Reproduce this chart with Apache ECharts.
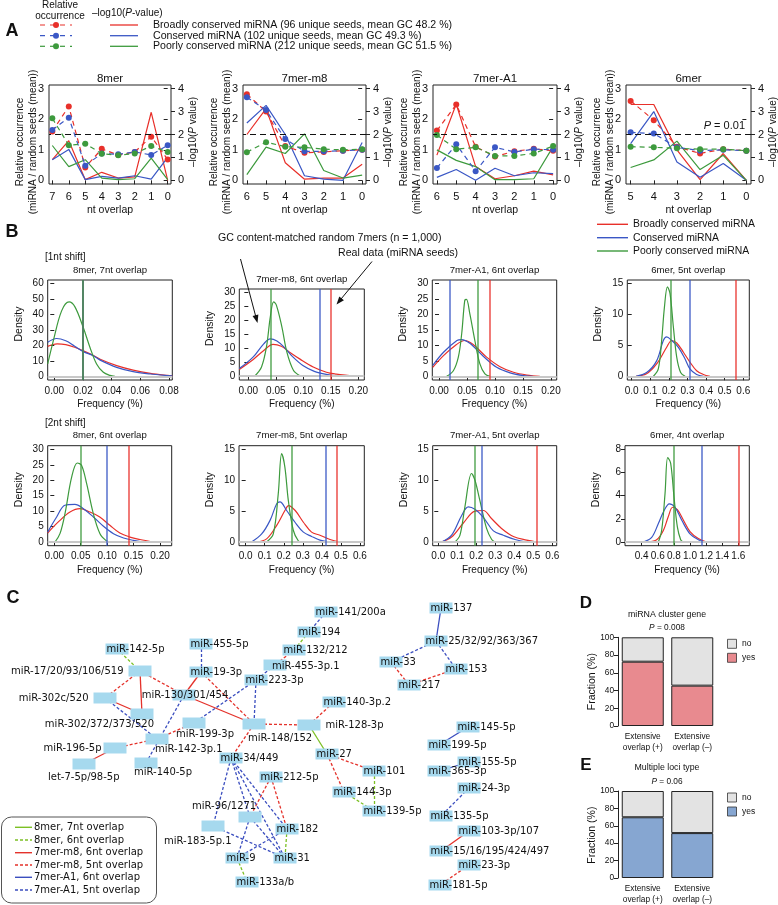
<!DOCTYPE html>
<html><head><meta charset="utf-8">
<script src="https://cdn.jsdelivr.net/npm/echarts@6.0.0/dist/echarts.min.js"></script>
<style>html,body{margin:0;padding:0;background:#fff;}#chart{width:778px;height:905px;}</style>
</head><body><div id="chart"></div>
<script>
// ================= DATA =================
// ---- Panel A: relative occurrence (dashed, left axis) and -log10(P) (solid, right axis)
const aPanelNames = ['8mer', '7mer-m8', '7mer-A1', '6mer'];
const aOverlap8mer = [7, 6, 5, 4, 3, 2, 1, 0];
const aOverlap7mer = [6, 5, 4, 3, 2, 1, 0];
const aOverlap6mer = [5, 4, 3, 2, 1, 0];
const aYTicksLeft = [0, 1, 2, 3];
const aYTicksRight = [0, 1, 2, 3, 4];

const rel8merBroad = [1.60, 2.42, 0.42, 1.03, 0.83, 0.93, 1.43, 0.68];
const rel8merCons  = [1.65, 2.05, 0.48, 0.88, 0.85, 0.93, 0.83, 1.15];
const rel8merPoor  = [2.03, 1.15, 1.20, 0.87, 0.82, 0.88, 1.12, 0.93];
const p8merBroad = [0.90, 1.73, 0.03, 0.35, 0.10, 0.15, 2.97, 0.00];
const p8merCons  = [0.90, 1.35, 0.03, 0.17, 0.10, 0.20, 0.05, 1.00];
const p8merPoor  = [1.52, 0.60, 0.90, 0.10, 0.03, 0.07, 0.97, 0.03];

const relM8Broad = [2.82, 2.25, 1.12, 0.90, 0.93, 0.97, 1.00];
const relM8Cons  = [2.72, 2.30, 1.35, 0.95, 0.95, 0.97, 1.00];
const relM8Poor  = [0.92, 1.25, 1.10, 1.08, 1.02, 1.00, 1.02];
const pM8Broad = [2.00, 3.13, 0.77, 0.05, 0.10, 0.10, 0.70];
const pM8Cons  = [2.50, 3.27, 2.00, 0.20, 0.05, 0.00, 1.65];
const pM8Poor  = [0.25, 1.45, 1.17, 2.03, 0.43, 0.10, 0.23];

const relA1Broad = [1.63, 2.48, 1.10, 0.78, 0.95, 1.03, 0.97];
const relA1Cons  = [0.40, 1.18, 0.30, 1.08, 0.93, 1.02, 1.00];
const relA1Poor  = [1.48, 1.02, 1.08, 0.80, 0.80, 0.88, 1.12];
const pA1Broad = [1.10, 3.33, 0.60, 0.07, 0.20, 0.40, 0.24];
const pA1Cons  = [0.13, 0.47, 0.00, 0.53, 0.20, 0.33, 0.29];
const pA1Poor  = [1.33, 0.87, 0.60, 0.03, 0.03, 0.07, 1.47];

const rel6merBroad = [2.60, 1.97, 1.10, 0.88, 1.02, 0.97];
const rel6merCons  = [1.57, 1.53, 1.08, 0.97, 1.00, 0.97];
const rel6merPoor  = [1.10, 1.08, 1.05, 1.02, 1.02, 0.97];
const p6merBroad = [3.31, 3.31, 1.33, 0.03, 1.17, 0.00];
const p6merCons  = [1.60, 3.00, 0.80, 0.13, 0.73, 0.00];
const p6merPoor  = [0.56, 0.89, 1.71, 0.47, 1.09, 0.00];
const pThreshold = 2; // -log10(0.01)

const aLegendTexts = ['Broadly conserved miRNA (96 unique seeds, mean GC 48.2 %)',
  'Conserved miRNA (102 unique seeds, mean GC 49.3 %)',
  'Poorly conserved miRNA (212 unique seeds, mean GC 51.5 %)'];
const groupNames = ['Broadly conserved miRNA', 'Conserved miRNA', 'Poorly conserved miRNA'];

// ---- Panel B: density of frequency (%) for random 7mers, plus real-data frequencies
const bTitles1 = ['8mer, 7nt overlap', '7mer-m8, 6nt overlap', '7mer-A1, 6nt overlap', '6mer, 5nt overlap'];
const bTitles2 = ['8mer, 6nt overlap', '7mer-m8, 5nt overlap', '7mer-A1, 5nt overlap', '6mer, 4nt overlap'];
const bXTicks1 = [[0, 0.02, 0.04, 0.06, 0.08], [0, 0.05, 0.1, 0.15, 0.2], [0, 0.05, 0.1, 0.15, 0.2], [0, 0.1, 0.2, 0.3, 0.4, 0.5, 0.6]];
const bXTicks2 = [[0, 0.05, 0.1, 0.15, 0.2], [0, 0.1, 0.2, 0.3, 0.4, 0.5, 0.6], [0, 0.1, 0.2, 0.3, 0.4, 0.5, 0.6], [0.4, 0.6, 0.8, 1.0, 1.2, 1.4, 1.6]];
const bYTicks1 = [[0, 10, 20, 30, 40, 50, 60], [0, 5, 10, 15, 20, 25, 30], [0, 5, 10, 15, 20, 25, 30], [0, 5, 10, 15]];
const bYTicks2 = [[0, 5, 10, 15, 20, 25, 30], [0, 5, 10, 15], [0, 5, 10, 15], [0, 2, 4, 6, 8]];

const real1ntBroad = [0.0203, 0.1527, 0.086, 0.555];
const real1ntCons  = [0.0175, 0.1345, 0.0167, 0.308];
const real1ntPoor  = [0.0231, 0.0406, 0.069, 0.21];
const real2ntBroad = [0.1388, 0.481, 0.523, 1.60];
const real2ntCons  = [0.1003, 0.4215, 0.228, 1.153];
const real2ntPoor  = [0.0536, 0.2414, 0.188, 0.80];

const d1_8mer_broad = [[-0.0046,19.4],[0.002,21],[0.008,20.5],[0.0142,18.8],[0.0203,16.5],[0.027,13.6],[0.032,11],[0.0435,6.9],[0.055,4],[0.067,1.9],[0.079,0.6],[0.0823,0.4]];
const d1_8mer_cons  = [[-0.0046,22],[0.0016,24.5],[0.008,23],[0.0142,19.5],[0.0203,16],[0.027,13.4],[0.032,10.5],[0.0435,5.8],[0.055,3],[0.067,1.5],[0.079,0.4],[0.0823,0.3]];
const d1_8mer_poor  = [[-0.0046,8],[-0.0007,23],[0.0051,42.4],[0.0103,48.2],[0.0144,45],[0.0202,31.6],[0.0249,18.7],[0.0295,8],[0.0342,2.6],[0.0388,0.6],[0.0423,0]];
const d1_m8_broad = [[-0.0164,2.3],[0.009,5.9],[0.027,8.9],[0.045,11.3],[0.06,10.6],[0.075,8.5],[0.094,6],[0.118,3.2],[0.142,1.3],[0.16,0.6],[0.18,0.15],[0.19,0]];
const d1_m8_cons  = [[-0.0164,2.6],[0.009,6.8],[0.028,11.5],[0.04,13.3],[0.052,12.5],[0.065,10.3],[0.08,7],[0.1,3.6],[0.12,1.6],[0.135,0.8],[0.15,0.3],[0.165,0]];
const d1_m8_poor  = [[0.012,0],[0.024,3.2],[0.033,10.4],[0.04,21.2],[0.046,26.6],[0.051,25.4],[0.061,17.6],[0.07,8.6],[0.082,2],[0.094,0]];
const d1_a1_broad = [[-0.0113,2.9],[0.008,6.7],[0.029,10],[0.046,11.6],[0.061,10.3],[0.085,6.2],[0.109,3.1],[0.133,1.3],[0.157,0.4],[0.18,0]];
const d1_a1_cons  = [[-0.0113,3.5],[0.008,7.8],[0.032,11.6],[0.04,11.9],[0.055,10.7],[0.079,6.5],[0.103,2.9],[0.127,1.1],[0.151,0.2],[0.168,0]];
const d1_a1_poor  = [[0.0137,0],[0.0256,1.8],[0.0345,6.2],[0.0405,13.8],[0.046,24.6],[0.049,24.9],[0.055,20.3],[0.064,11.6],[0.073,4],[0.082,0.8],[0.091,0]];
const d1_6mer_broad = [[0.023,0],[0.08,0.4],[0.134,2],[0.188,4.7],[0.215,5.8],[0.242,5.4],[0.278,3.9],[0.313,2.3],[0.349,0.9],[0.385,0.3],[0.421,0]];
const d1_6mer_cons  = [[0.023,0],[0.08,0.6],[0.134,2.5],[0.17,5.8],[0.188,6.4],[0.215,5.8],[0.251,4.7],[0.287,2.8],[0.313,1.2],[0.349,0.3],[0.385,0]];
const d1_6mer_poor  = [[0.116,0],[0.143,1.2],[0.161,5.8],[0.176,11.2],[0.192,14.5],[0.206,13.4],[0.224,8],[0.242,3.1],[0.263,0.6],[0.287,0]];

const d2_8mer_broad = [[-0.0126,2.9],[0.0076,6.5],[0.0297,9.7],[0.0486,10.8],[0.0675,9.7],[0.086,8.1],[0.105,5.4],[0.124,2.9],[0.143,1.6],[0.162,0.8],[0.187,0]];
const d2_8mer_cons  = [[-0.0126,3.2],[0.0044,8.1],[0.02,11.9],[0.039,12.2],[0.055,10.8],[0.074,8.1],[0.093,5.1],[0.112,2.7],[0.131,1.3],[0.15,0.5],[0.168,0]];
const d2_8mer_poor  = [[0.0013,0],[0.0107,2.7],[0.0202,9.2],[0.0328,21],[0.0435,25.6],[0.0517,24.8],[0.0612,18.9],[0.0738,9.2],[0.0864,2.7],[0.099,0.3],[0.105,0]];
const d2_m8_broad = [[0.058,0],[0.11,0.5],[0.163,2.7],[0.206,5.1],[0.225,5.9],[0.26,5.1],[0.303,3.2],[0.346,1.6],[0.39,1.1],[0.443,0.4],[0.495,0]];
const d2_m8_cons  = [[0.031,0],[0.084,1.3],[0.128,3.5],[0.163,6.2],[0.18,6.5],[0.215,5.1],[0.259,3.2],[0.303,1.6],[0.346,0.9],[0.39,0.3],[0.443,0]];
const d2_m8_poor  = [[0.11,0],[0.145,1.3],[0.171,7.8],[0.189,14.3],[0.206,12.1],[0.224,6.7],[0.25,1.9],[0.276,0.2],[0.294,0]];
const d2_a1_broad = [[0.0175,0],[0.07,0.8],[0.13,3],[0.193,5],[0.237,5.1],[0.28,3.8],[0.333,2.2],[0.395,0.9],[0.465,0.3],[0.518,0]];
const d2_a1_cons  = [[0.0175,0],[0.07,1.1],[0.123,4.3],[0.158,5.7],[0.193,5.3],[0.237,4],[0.29,1.8],[0.342,1.1],[0.404,0.4],[0.465,0]];
const d2_a1_poor  = [[0.088,0],[0.114,1.1],[0.14,5.7],[0.175,11.1],[0.193,10],[0.219,6.7],[0.254,2.2],[0.281,0.4],[0.298,0]];
const d2_6mer_broad = [[0.483,0],[0.586,0.2],[0.669,1.0],[0.731,2.2],[0.785,3.0],[0.843,2.8],[0.917,1.9],[1.0,0.9],[1.103,0.3],[1.207,0]];
const d2_6mer_cons  = [[0.421,0],[0.524,0.4],[0.607,1.6],[0.677,2.7],[0.743,3.3],[0.814,3.0],[0.896,1.9],[1.0,0.7],[1.103,0.2],[1.186,0]];
const d2_6mer_poor  = [[0.607,0],[0.648,1.0],[0.69,4.2],[0.723,7.3],[0.76,6.8],[0.801,3.9],[0.843,1.3],[0.884,0.2],[0.917,0]];

// ---- Panel C: network
const netNodes = ['miR-141/200a','miR-194','miR-132/212','miR-455-3p.1','miR-223-3p','miR-455-5p','miR-19-3p',
  'miR-142-5p','miR-17/20/93/106/519','miR-302c/520','miR-302/372/373/520','miR-130/301/454','miR-199-3p',
  'miR-148/152','miR-128-3p','miR-140-3p.2','miR-142-3p.1','miR-196-5p','let-7-5p/98-5p','miR-140-5p',
  'miR-34/449','miR-27','miR-212-5p','miR-144-3p','miR-101','miR-139-5p','miR-96/1271','miR-183-5p.1',
  'miR-182','miR-9','miR-31','miR-133a/b','miR-137','miR-25/32/92/363/367','miR-33','miR-153','miR-217',
  'miR-145-5p','miR-199-5p','miR-155-5p','miR-365-3p','miR-24-3p','miR-135-5p','miR-103-3p/107',
  'miR-15/16/195/424/497','miR-23-3p','miR-181-5p'];
const edgeTypes = ['8mer, 7nt overlap','8mer, 6nt overlap','7mer-m8, 6nt overlap','7mer-m8, 5nt overlap','7mer-A1, 6nt overlap','7mer-A1, 5nt overlap'];
const edges8mer7nt = [['miR-128-3p','miR-27']];
const edges8mer6nt = [['miR-194','miR-132/212'],['miR-142-5p','miR-17/20/93/106/519'],['miR-144-3p','miR-139-5p'],['miR-101','miR-139-5p'],['miR-182','miR-31'],['miR-9','miR-133a/b']];
const edgesM8_6nt = [['miR-17/20/93/106/519','miR-302/372/373/520'],['miR-302c/520','miR-302/372/373/520'],['miR-19-3p','miR-130/301/454'],['miR-130/301/454','miR-148/152'],['miR-196-5p','let-7-5p/98-5p'],['miR-103-3p/107','miR-15/16/195/424/497']];
const edgesM8_5nt = [['miR-132/212','miR-455-3p.1'],['miR-17/20/93/106/519','miR-302c/520'],['miR-17/20/93/106/519','miR-130/301/454'],['miR-19-3p','miR-148/152'],['miR-199-3p','miR-142-3p.1'],['miR-148/152','miR-128-3p'],['miR-148/152','miR-34/449'],['miR-128-3p','miR-140-3p.2'],['miR-196-5p','miR-142-3p.1'],['miR-27','miR-101'],['miR-27','miR-144-3p'],['miR-212-5p','miR-96/1271'],['miR-212-5p','miR-182'],['miR-33','miR-217'],['miR-217','miR-153'],['miR-23-3p','miR-181-5p']];
const edgesA1_6nt = [['miR-137','miR-25/32/92/363/367'],['miR-145-5p','miR-199-5p'],['miR-155-5p','miR-365-3p']];
const edgesA1_5nt = [['miR-141/200a','miR-194'],['miR-455-3p.1','miR-223-3p'],['miR-455-5p','miR-19-3p'],['miR-302c/520','miR-142-3p.1'],['miR-130/301/454','miR-140-5p'],['miR-223-3p','miR-199-3p'],['miR-223-3p','miR-148/152'],['miR-34/449','miR-183-5p.1'],['miR-34/449','miR-31'],['miR-34/449','miR-96/1271'],['miR-34/449','miR-182'],['miR-96/1271','miR-9'],['miR-96/1271','miR-31'],['miR-183-5p.1','miR-31'],['miR-182','miR-9'],['miR-25/32/92/363/367','miR-33'],['miR-25/32/92/363/367','miR-153'],['miR-24-3p','miR-135-5p']];

// ---- Panels D, E
const deCategories = ['Extensive\noverlap (+)', 'Extensive\noverlap (–)'];
const clusterYes = [72.5, 45.5];
const clusterNo  = [27.5, 54.5];
const lociYes = [69.8, 51.6];
const lociNo  = [30.2, 48.4];

// ================= LAYOUT / STYLE =================
const F = '"Liberation Sans", Arial, Helvetica, sans-serif';
const NF = '"DejaVu Sans", sans-serif';
const RED = '#e8302a', BLUE = '#3a57c5', GREEN = '#3d9a3d';
const COLS = [RED, BLUE, GREEN];
const grids = [], xAxes = [], yAxes = [], series = [], graphics = [];

function txt(x, y, text, size, opts) {
  opts = opts || {};
  const el = {type: 'text', x: x, y: y, silent: true, z: 50,
    style: {text: text, fontSize: size, fontFamily: opts.family || F, fontWeight: opts.weight || 'normal',
      fill: opts.fill || '#111', align: opts.align || 'center', verticalAlign: opts.va || 'middle',
      lineHeight: opts.lh || undefined, rich: opts.rich || undefined}};
  if (opts.rot) el.rotation = opts.rot;
  return el;
}
function hline(x1, y1, x2, y2, color, w, dash) {
  return {type: 'line', silent: true, z: 50, shape: {x1, y1, x2, y2}, style: {stroke: color, lineWidth: w, lineDash: dash || null}};
}
function addGrid(l, t, w, h, show) {
  grids.push({left: l, top: t, width: w, height: h, show: show !== false, borderColor: '#222', borderWidth: 1, backgroundColor: 'transparent', containLabel: false});
  return grids.length - 1;
}
function valAxis(g, opts) {
  return Object.assign({gridIndex: g, type: 'value', scale: false,
    axisLine: {show: false}, splitLine: {show: false},
    axisTick: {show: true, length: 4, lineStyle: {color: '#222', width: 1}, customValues: opts.ticks},
    axisLabel: {show: true, customValues: opts.ticks, fontSize: opts.fs || 11, fontFamily: F, color: '#111', margin: opts.margin || 6,
      formatter: opts.fmt || (v => String(v))}}, opts.extra || {});
}

// ---------- Panel A ----------
const aBoxes = [[49, 171], [243, 366], [433, 557], [626, 751]];
const aTop = 85, aBot = 184;
const aXs = [aOverlap8mer, aOverlap7mer, aOverlap7mer, aOverlap6mer];
const aRel = [[rel8merBroad, rel8merCons, rel8merPoor], [relM8Broad, relM8Cons, relM8Poor], [relA1Broad, relA1Cons, relA1Poor], [rel6merBroad, rel6merCons, rel6merPoor]];
const aP = [[p8merBroad, p8merCons, p8merPoor], [pM8Broad, pM8Cons, pM8Poor], [pA1Broad, pA1Cons, pA1Poor], [p6merBroad, p6merCons, p6merPoor]];
aPanelNames.forEach((nm, i) => {
  const [l, r] = aBoxes[i];
  const g = addGrid(l, aTop, r - l, aBot - aTop);
  const xs = aXs[i];
  const xi = xAxes.length;
  xAxes.push(valAxis(g, {ticks: xs, margin: 7, extra: {inverse: true, min: -0.2, max: xs[0] + 0.2, position: 'bottom'}}));
  const yl = yAxes.length;
  yAxes.push(valAxis(g, {ticks: aYTicksLeft, margin: 5, extra: {position: 'left', min: -0.12, max: 3.12}}));
  yAxes.push(valAxis(g, {ticks: aYTicksRight, margin: 7, extra: {position: 'right', min: -0.16, max: 4.16}}));
  COLS.forEach((c, k) => {
    series.push({type: 'line', name: groupNames[k], xAxisIndex: xi, yAxisIndex: yl + 1, data: xs.map((x, j) => [x, aP[i][k][j]]),
      symbol: 'none', lineStyle: {color: c, width: 1.2}, silent: true, z: 2});
  });
  COLS.forEach((c, k) => {
    const s = {type: 'line', name: groupNames[k], xAxisIndex: xi, yAxisIndex: yl, data: xs.map((x, j) => [x, aRel[i][k][j]]),
      symbol: 'circle', symbolSize: 6, itemStyle: {color: c}, lineStyle: {color: c, width: 1.2, type: [5, 4]}, silent: true, z: 3};
    series.push(s);
  });
  series.push({type: 'line', xAxisIndex: xi, yAxisIndex: yl + 1, data: [], silent: true, z: 4,
    markLine: {silent: true, symbol: 'none', label: {show: false}, animation: false,
      lineStyle: {color: '#111', type: [6, 4], width: 1.2}, data: [{yAxis: pThreshold}]}});
  const cx = (l + r) / 2;
  graphics.push(txt(cx, 79, nm, 11.5));
  graphics.push(txt(cx, 210, 'nt overlap', 10.5));
  graphics.push(txt(l - 22.5, 142, 'Relative occurrence\n(miRNA / random seeds (mean))', 10, {rot: Math.PI / 2, lh: 12.5}));
  graphics.push(txt(r + 22, 132, '–log10({i|P} value)', 10, {rot: Math.PI / 2, rich: {i: {fontStyle: 'italic', fontSize: 10, fontFamily: F}}}));
});
graphics.push(txt(745, 126, '{i|P} = 0.01', 11, {align: 'right', rich: {i: {fontStyle: 'italic', fontSize: 11, fontFamily: F}}}));
// Panel A header / legend
graphics.push(txt(12, 31, 'A', 18, {weight: 'bold'}));
graphics.push(txt(60, 5.5, 'Relative', 10));
graphics.push(txt(60, 16.5, 'occurrence', 10));
graphics.push(txt(92, 13.5, '–log10({i|P}-value)', 10, {align: 'left', rich: {i: {fontStyle: 'italic', fontSize: 10, fontFamily: F}}}));
[25, 35.7, 46.3].forEach((y, k) => {
  graphics.push(hline(40, y, 72, y, COLS[k], 1.2, [5, 5]));
  graphics.push({type: 'circle', silent: true, z: 51, shape: {cx: 56, cy: y, r: 3}, style: {fill: COLS[k]}});
  graphics.push(hline(110, y, 138, y, COLS[k], 1.3));
  graphics.push(txt(153, y, aLegendTexts[k], 10.6, {align: 'left'}));
});

// ---------- Panel B ----------
const bDens = [
  [[d1_8mer_broad, d1_8mer_cons, d1_8mer_poor], [d1_m8_broad, d1_m8_cons, d1_m8_poor], [d1_a1_broad, d1_a1_cons, d1_a1_poor], [d1_6mer_broad, d1_6mer_cons, d1_6mer_poor]],
  [[d2_8mer_broad, d2_8mer_cons, d2_8mer_poor], [d2_m8_broad, d2_m8_cons, d2_m8_poor], [d2_a1_broad, d2_a1_cons, d2_a1_poor], [d2_6mer_broad, d2_6mer_cons, d2_6mer_poor]]
];
const bReal = [[real1ntBroad, real1ntCons, real1ntPoor], [real2ntBroad, real2ntCons, real2ntPoor]];
const bXT = [bXTicks1, bXTicks2], bYT = [bYTicks1, bYTicks2], bTit = [bTitles1, bTitles2];
const bBox = [
  [[47.7, 172.3, 280, 380, -0.0046, 0.0823, 2], [239.3, 364.3, 289, 380, -0.0164, 0.2109, 2], [432.3, 556.7, 280, 380, -0.012, 0.2102, 2], [627.3, 749.3, 280, 380, -0.0237, 0.6323, 1]],
  [[47.7, 171.7, 445.7, 545.7, -0.0125, 0.2221, 2], [239, 364.3, 445.7, 545.7, -0.035, 0.6227, 1], [432.7, 556.7, 445.7, 545.7, -0.0295, 0.6232, 1], [625, 749.3, 445.7, 545.7, 0.1925, 1.7366, 1]]
];
const bTitleY = [[270, 279, 270, 270], [435, 435, 435, 435]];
const bFreqY = [404, 570];
for (let row = 0; row < 2; row++) {
  for (let col = 0; col < 4; col++) {
    const [l, r, t, b, xmin, xmax, dec] = bBox[row][col];
    const yt = bYT[row][col];
    const M = yt[yt.length - 1];
    let ymin = -0.04 * M, ymax = 1.04 * M;
    if (row === 0 && col === 1) { ymin = -1.5; ymax = 31.2; }
    const g = addGrid(l, t, r - l, b - t);
    const xi = xAxes.length;
    xAxes.push(valAxis(g, {ticks: bXT[row][col], fs: 10, margin: 6, fmt: v => v.toFixed(dec), extra: {min: xmin, max: xmax}}));
    const yi = yAxes.length;
    yAxes.push(valAxis(g, {ticks: yt, fs: 10, margin: 4, extra: {min: ymin, max: ymax}}));
    series.push({type: 'line', xAxisIndex: xi, yAxisIndex: yi, data: [], silent: true, z: 1,
      markLine: {silent: true, symbol: 'none', label: {show: false}, animation: false,
        lineStyle: {color: '#c8c8c8', type: 'solid', width: 2}, data: [{yAxis: 0}]}});
    COLS.forEach((c, k) => {
      series.push({type: 'line', xAxisIndex: xi, yAxisIndex: yi, data: bDens[row][col][k], smooth: 0.35,
        symbol: 'none', lineStyle: {color: c, width: 1.2}, silent: true, z: 3,
        markLine: {silent: true, symbol: 'none', label: {show: false}, animation: false,
          lineStyle: {color: c, type: 'solid', width: 1.6, opacity: 0.8}, data: [{xAxis: bReal[row][k][col]}]}});
    });
    const cx = (l + r) / 2;
    graphics.push(txt(cx, bTitleY[row][col], bTit[row][col], 9.6));
    graphics.push(txt(cx, bFreqY[row], 'Frequency (%)', 10));
    graphics.push(txt(l - 29, (t + b) / 2 - 6, 'Density', 10.5, {rot: Math.PI / 2}));
  }
}
graphics.push(txt(12, 232, 'B', 18, {weight: 'bold'}));
graphics.push(txt(45, 257, '[1nt shift]', 10, {align: 'left'}));
graphics.push(txt(45, 423, '[2nt shift]', 10, {align: 'left'}));
graphics.push(txt(218, 238, 'GC content-matched random 7mers (n = 1,000)', 10.6, {align: 'left'}));
graphics.push(txt(338, 253.5, 'Real data (miRNA seeds)', 10.6, {align: 'left'}));
function arrow(x1, y1, x2, y2) {
  const a = Math.atan2(y2 - y1, x2 - x1), L = 8, W = 3;
  const p1 = [x2 - L * Math.cos(a) + W * Math.sin(a), y2 - L * Math.sin(a) - W * Math.cos(a)];
  const p2 = [x2 - L * Math.cos(a) - W * Math.sin(a), y2 - L * Math.sin(a) + W * Math.cos(a)];
  graphics.push(hline(x1, y1, x2 - 3 * Math.cos(a), y2 - 3 * Math.sin(a), '#111', 1));
  graphics.push({type: 'polygon', silent: true, z: 50, shape: {points: [[x2, y2], p1, p2]}, style: {fill: '#111'}});
}
arrow(240.5, 259, 257.5, 323);
arrow(372, 261.5, 336.5, 304.5);
[224.3, 237.7, 251].forEach((y, k) => {
  graphics.push(hline(597, y, 628, y, COLS[k], 1.4));
  graphics.push(txt(633, y, groupNames[k], 10.4, {align: 'left'}));
});

// ---------- Panel C: network ----------
const nodeLayout = {
  'miR-141/200a': [326, 612, 'in'], 'miR-194': [309, 632, 'in'], 'miR-132/212': [294, 650, 'in'],
  'miR-455-3p.1': [275, 665, [-3, 1, 'left']], 'miR-223-3p': [256, 680, 'in'], 'miR-455-5p': [201, 644, 'in'],
  'miR-19-3p': [201, 672, 'in'], 'miR-142-5p': [117, 649, 'in'], 'miR-17/20/93/106/519': [140, 671, 'L'],
  'miR-302c/520': [105, 698, 'L'], 'miR-302/372/373/520': [142, 714, [12, 10, 'right']],
  'miR-130/301/454': [184, 695, [1, 0, 'center']], 'miR-199-3p': [194, 723, [-18, 11, 'left']],
  'miR-148/152': [254, 724, [-6, 14, 'left']], 'miR-128-3p': [309, 725, 'R'], 'miR-140-3p.2': [334, 702, 'in'],
  'miR-142-3p.1': [157, 739, [-2, 10, 'left']], 'miR-196-5p': [115, 748, 'L2'], 'let-7-5p/98-5p': [84, 764, [-36, 13, 'left']],
  'miR-140-5p': [146, 763, [-12, 9, 'left']], 'miR-34/449': [231, 758, 'in'], 'miR-27': [327, 754, 'in'],
  'miR-212-5p': [271, 777, 'in'], 'miR-144-3p': [344, 792, 'in'], 'miR-101': [374, 771, 'in'], 'miR-139-5p': [374, 811, 'in'],
  'miR-96/1271': [250, 817, [-58, -11, 'left']], 'miR-183-5p.1': [213, 826, [-49, 15, 'left']],
  'miR-182': [287, 829, 'in'], 'miR-9': [237, 858, 'in'], 'miR-31': [285, 858, 'in'], 'miR-133a/b': [247, 882, 'in'],
  'miR-137': [441, 608, 'in'], 'miR-25/32/92/363/367': [436, 641, 'in'], 'miR-33': [391, 662, 'in'], 'miR-153': [456, 669, 'in'],
  'miR-217': [409, 685, 'in'], 'miR-145-5p': [468, 727, 'in'], 'miR-199-5p': [439, 745, 'in'], 'miR-155-5p': [469, 762, 'in'],
  'miR-365-3p': [439, 771, 'in'], 'miR-24-3p': [469, 788, 'in'], 'miR-135-5p': [441, 816, 'in'], 'miR-103-3p/107': [469, 831, 'in'],
  'miR-15/16/195/424/497': [441, 851, 'in'], 'miR-23-3p': [469, 865, 'in'], 'miR-181-5p': [440, 885, 'in']
};
const NODE_W = 23, NODE_H = 11;
function nodeLabel(spec) {
  if (spec === 'in') return {position: [1, NODE_H / 2], align: 'left', verticalAlign: 'middle'};
  if (spec === 'L') return {position: 'left', distance: 5};
  if (spec === 'L2') return {position: 'left', distance: 2};
  if (spec === 'R') return {position: 'right', distance: 5};
  return {position: [NODE_W / 2 + spec[0], NODE_H / 2 + spec[1]], align: spec[2], verticalAlign: 'middle'};
}
const edgeStyles = [
  {color: '#7cc024', type: 'solid'}, {color: '#7cc024', type: [3, 2]},
  {color: '#e4322b', type: 'solid'}, {color: '#e4322b', type: [3, 2]},
  {color: '#3b4ebf', type: 'solid'}, {color: '#3b4ebf', type: [3, 2]}
];
const edgeLists = [edges8mer7nt, edges8mer6nt, edgesM8_6nt, edgesM8_5nt, edgesA1_6nt, edgesA1_5nt];
const links = [];
edgeLists.forEach((lst, k) => lst.forEach(([s, t]) => links.push({source: s, target: t,
  lineStyle: {color: edgeStyles[k].color, type: edgeStyles[k].type, width: 1.3, opacity: 1, curveness: 0}})));
const gC = addGrid(0, 0, 778, 905, false);
const xC = xAxes.length;
xAxes.push({gridIndex: gC, type: 'value', min: 0, max: 778, show: false});
const yC = yAxes.length;
yAxes.push({gridIndex: gC, type: 'value', min: 0, max: 905, inverse: true, show: false});
series.push({type: 'graph', coordinateSystem: 'cartesian2d', xAxisIndex: xC, yAxisIndex: yC, z: 5,
  symbol: 'rect', symbolSize: [NODE_W, NODE_H], itemStyle: {color: '#a6d9ee'},
  label: {show: true, fontFamily: NF, fontSize: 10, color: '#111'},
  emphasis: {disabled: true}, silent: true, edgeSymbol: ['none', 'none'],
  data: netNodes.map(n => ({name: n, value: [nodeLayout[n][0], nodeLayout[n][1]], label: nodeLabel(nodeLayout[n][2])})),
  links: links});
graphics.push(txt(13, 598.5, 'C', 18, {weight: 'bold'}));
graphics.push({type: 'rect', silent: true, z: 49, shape: {x: 1.5, y: 817, width: 155, height: 86, r: 10}, style: {fill: '#fff', stroke: '#555', lineWidth: 1}});
[827.3, 840, 852.7, 865, 877.3, 890].forEach((y, k) => {
  graphics.push(hline(15, y, 32, y, edgeStyles[k].color, 1.4, edgeStyles[k].type === 'solid' ? null : [3, 2]));
  graphics.push(txt(34, y, edgeTypes[k], 10, {align: 'left', family: NF}));
});

// ---------- Panels D, E ----------
function barPanel(top, height, yesVals, noVals, yesColor, title, ptext, letterY, titleY, pY) {
  const g = addGrid(618, top, 99, height, false);
  const xi = xAxes.length;
  xAxes.push({gridIndex: g, type: 'category', data: deCategories, axisLine: {show: false}, axisTick: {show: false},
    axisLabel: {fontSize: 8.3, lineHeight: 11, margin: 5, color: '#111', fontFamily: F, interval: 0}});
  const yi = yAxes.length;
  yAxes.push({gridIndex: g, type: 'value', min: 0, max: 100, interval: 20, axisLine: {show: true, lineStyle: {color: '#222'}},
    axisTick: {show: true, length: 4, lineStyle: {color: '#222'}}, splitLine: {show: false},
    axisLabel: {fontSize: 8.3, margin: 4, color: '#111', fontFamily: F}});
  series.push({type: 'bar', xAxisIndex: xi, yAxisIndex: yi, stack: 's' + g, data: yesVals, barWidth: 42, silent: true,
    itemStyle: {color: yesColor, borderColor: '#222', borderWidth: 1}});
  series.push({type: 'bar', xAxisIndex: xi, yAxisIndex: yi, stack: 's' + g, data: noVals, barWidth: 42, silent: true,
    itemStyle: {color: '#e3e3e3', borderColor: '#222', borderWidth: 1}});
  graphics.push(txt(586, letterY, title === 'miRNA cluster gene' ? 'D' : 'E', 17, {weight: 'bold'}));
  graphics.push(txt(667, titleY, title, 8.8));
  graphics.push(txt(667, pY, '{i|P} = ' + ptext, 8.3, {rich: {i: {fontStyle: 'italic', fontSize: 8.3, fontFamily: F}}}));
  graphics.push(txt(592, top + height / 2, 'Fraction (%)', 10.5, {rot: Math.PI / 2}));
  graphics.push({type: 'rect', silent: true, z: 50, shape: {x: 727.5, y: top + 2, width: 9, height: 9}, style: {fill: '#e3e3e3', stroke: '#333', lineWidth: 0.8}});
  graphics.push({type: 'rect', silent: true, z: 50, shape: {x: 727.5, y: top + 16, width: 9, height: 9}, style: {fill: yesColor, stroke: '#333', lineWidth: 0.8}});
  graphics.push(txt(742, top + 6.5, 'no', 8.5, {align: 'left'}));
  graphics.push(txt(742, top + 20.5, 'yes', 8.5, {align: 'left'}));
}
barPanel(637.3, 88.7, clusterYes, clusterNo, '#e88a8f', 'miRNA cluster gene', '0.008', 603, 615, 628);
barPanel(791, 88.3, lociYes, lociNo, '#86a6d1', 'Multiple loci type', '0.06', 765.5, 767.5, 781.5);

// ================= RENDER =================
const chart = echarts.init(document.getElementById('chart'), null, {renderer: 'canvas', width: 778, height: 905});
chart.setOption({
  animation: false,
  backgroundColor: '#ffffff',
  textStyle: {fontFamily: F},
  grid: grids, xAxis: xAxes, yAxis: yAxes, series: series, graphic: graphics
});
</script>
</body></html>
